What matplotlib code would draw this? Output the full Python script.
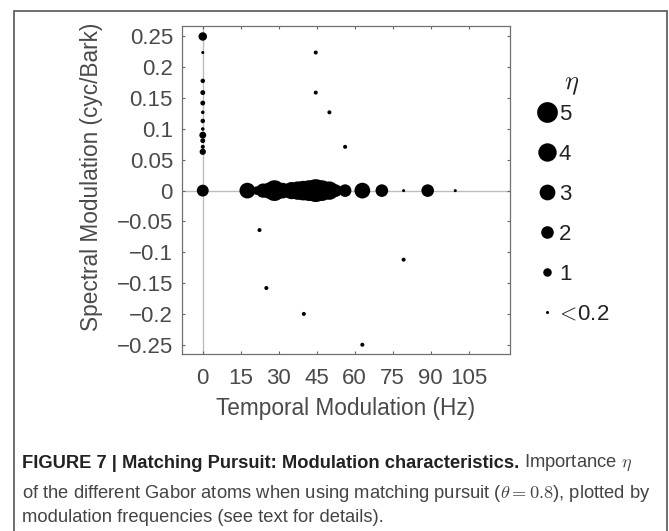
import numpy as np
import matplotlib.pyplot as plt
from matplotlib.lines import Line2D
from matplotlib.patches import Rectangle
from matplotlib.ticker import FuncFormatter

plt.rcParams['font.family'] = ['Liberation Sans', 'DejaVu Sans']
plt.rcParams['mathtext.fontset'] = 'cm'

# Gabor atoms: temporal modulation (Hz), spectral modulation (cyc/Bark), importance eta
temporal = [0, 0, 0, 0, 0, 0, 0, 0, 0, 0, 0, 0, 0,
            44.6, 44.6, 50, 56.2,
            17.6, 21.3, 23.8, 26, 28.3, 31.5, 35, 37.5, 39.7, 42, 44.6, 47, 50, 52.5,
            56.2, 63, 70.7, 79.3, 88.8, 99.7,
            22.4, 25.1, 39.9, 63, 79.3]
spectral = [0.25, 0.224, 0.178, 0.159, 0.142, 0.127, 0.113, 0.100, 0.090, 0.081, 0.071, 0.063, 0,
            0.224, 0.159, 0.127, 0.071,
            0, 0, 0, 0, 0, 0, 0, 0, 0, 0, 0, 0, 0, 0,
            0, 0, 0, 0, 0, 0,
            -0.064, -0.158, -0.200, -0.250, -0.112]
eta = [1.0, 0.2, 0.35, 0.4, 0.4, 0.25, 0.35, 0.25, 0.7, 0.4, 0.3, 0.6, 1.8,
       0.3, 0.3, 0.3, 0.3,
       3, 1, 2.5, 3, 5, 3, 3.5, 4, 4.5, 5, 6, 5, 4, 2,
       2, 3, 2, 0.2, 2, 0.2,
       0.3, 0.3, 0.3, 0.3, 0.3]

legend_eta = [5, 4, 3, 2, 1, 0.2]
legend_labels = ['5', '4', '3', '2', '1', '$\\!<\\!$0.2']

xticks = [0, 15, 30, 45, 60, 75, 90, 105]
yticks = [-0.25, -0.2, -0.15, -0.1, -0.05, 0, 0.05, 0.1, 0.15, 0.2, 0.25]

DPI = 100


def diam_pt(e):
    # marker diameter (points) as a function of importance
    px = 9.9 * np.sqrt(np.asarray(e, dtype=float)) - 1.4
    return px * 72.0 / DPI


tick_col = '#4a4a4a'
fs = 16

fig = plt.figure(figsize=(6.69, 5.31), dpi=DPI)
ax = fig.add_axes([182 / 669, 1 - 354 / 531, (510 - 182) / 669, (354 - 26) / 531])

ax.axhline(0, color='#bdbdbd', lw=1.0, zorder=1)
ax.axvline(0, color='#bdbdbd', lw=1.0, zorder=1)
ax.scatter(temporal, spectral, s=diam_pt(eta) ** 2, c='k', linewidths=0, zorder=3)

ax.set_xlim(-8.2, 121.3)
ax.set_ylim(-0.265, 0.267)
ax.set_xticks(xticks)
ax.set_yticks(yticks)
ax.yaxis.set_major_formatter(FuncFormatter(lambda v, p: f"{v:g}".replace('-', '\u2212')))
ax.tick_params(direction='in', length=2.5, width=0.8, color='#666666',
               top=True, right=True, labelsize=fs, labelcolor=tick_col)
ax.tick_params(axis='x', pad=10)
ax.tick_params(axis='y', pad=6.5)
for sp in ax.spines.values():
    sp.set_color('#707070')
    sp.set_linewidth(0.9)

ax.set_xlabel('Temporal Modulation (Hz)', fontsize=16.3, color=tick_col)
ax.set_ylabel('Spectral Modulation (cyc/Bark)', fontsize=16.3, color=tick_col)
ax.xaxis.label.set_va('center')
ax.yaxis.label.set_va('center')
ax.xaxis.set_label_coords(0.5, (354 - 408) / 328)
ax.yaxis.set_label_coords((92 - 182) / 328, 0.54)

# size legend
fig.text(572 / 669, 1 - 85 / 531, '$\\eta$', fontsize=19, ha='center', va='center',
         color='#222222')
handles = [Line2D([], [], ls='', marker='o', color='k', markeredgewidth=0,
                  markersize=diam_pt(e)) for e in legend_eta]
leg = fig.legend(handles, legend_labels, loc='upper left',
                 bbox_to_anchor=(538.1 / 669, 1 - 104 / 531), frameon=False,
                 fontsize=fs, handlelength=0.8, handletextpad=0.14, borderpad=0,
                 labelspacing=0.85, borderaxespad=0)
for t in leg.get_texts():
    t.set_color('#222222')

# outer frame of the figure panel
fig.add_artist(Rectangle((14 / 669, -0.05), (667 - 14) / 669, 1 - 11 / 531 + 0.05,
                         transform=fig.transFigure, fill=False, ec='#555555',
                         lw=1.2, clip_on=False))

# caption
cap_fs = 13.2
x0 = 22 / 669
bold = fig.text(x0, 1 - 463 / 531, 'FIGURE 7 | Matching Pursuit: Modulation characteristics.',
                fontsize=cap_fs, fontweight='bold', color='#222222', va='center')
fig.canvas.draw()
bb = bold.get_window_extent()
fig.text(bb.x1 / fig.bbox.width + 5 / 669, 1 - 463 / 531, 'Importance $\\eta$',
         fontsize=cap_fs, color='#444444', va='center')
fig.text(x0, 1 - 493 / 531,
         'of the different Gabor atoms when using matching pursuit ($\\theta = 0.8$), plotted by',
         fontsize=cap_fs, color='#444444', va='center')
fig.text(x0, 1 - 518 / 531, 'modulation frequencies (see text for details).',
         fontsize=cap_fs, color='#444444', va='center')

fig.savefig('out.png', dpi=DPI)
